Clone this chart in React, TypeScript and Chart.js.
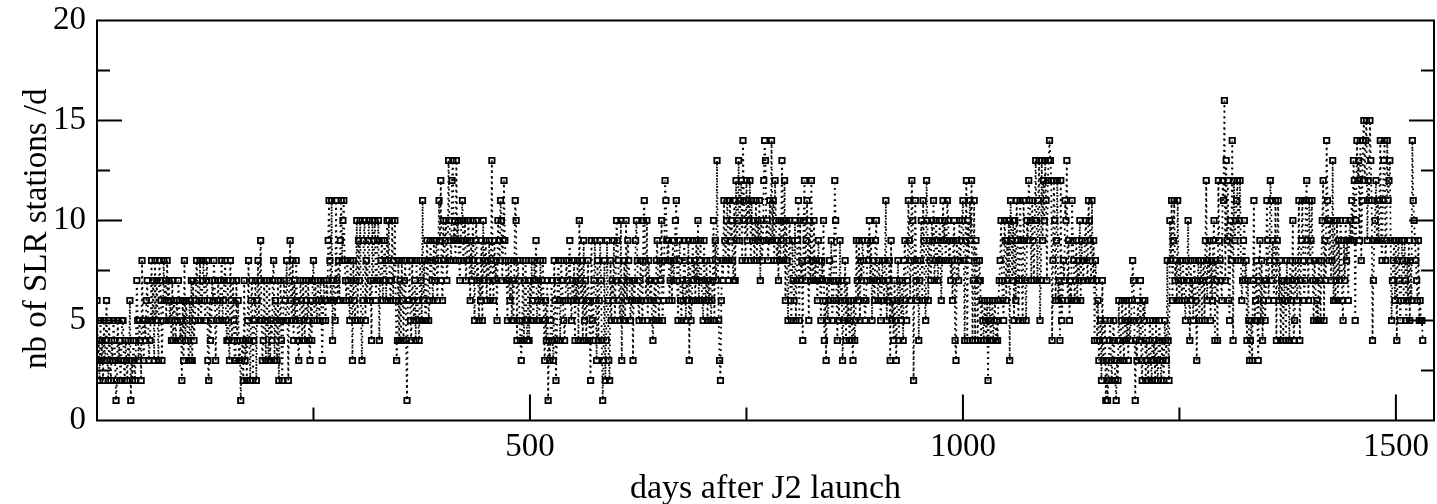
import React, { useEffect, useRef } from "react";
import { Chart, registerables } from "chart.js";

Chart.register(...registerables);

const xTickValues = [0, 250, 500, 750, 1000, 1250, 1500];
const xLabelled = [500, 1000, 1500];
const yTickValues = [0, 2.5, 5, 7.5, 10, 12.5, 15, 17.5, 20];
const yLabelled = [0, 5, 10, 15, 20];

const stationsA = [
6,3,4,2,5,3,4,2,5,3, 4,6,3,2,5,3,2,4,3,5, 4,3,1,2,5,3,4,2,3,5, 5,3,2,4,3,2,4,3,6,1,
3,2,4,3,2,4,7,5,3,5, 4,2,8,5,3,5,4,6,7,5, 3,4,5,8,5,7,3,8,5,7, 5,3,8,7,6,3,5,8,6,7,
5,8,6,7,5,6,4,7,4,6, 5,4,6,5,7,6,4,5,2,6, 3,8,4,6,5,4,3,6,3,7, 3,7,4,5,6,8,7,5,6,8,
5,6,7,8,6,5,7,8,3,2, 6,4,5,7,6,8,7,3,5,6, 7,5,6,7,8,5,6,7,8,5, 4,7,4,3,8,6,4,7,5,3,
3,7,4,6,3,4,1,3,4,2, 7,3,4,2,5,8,4,2,6,7, 2,4,5,7,2,6,8,5,7,9, 5,3,4,7,5,3,7,5,3,7,
3,5,4,7,8,3,6,5,3,7, 2,5,7,4,2,5,7,6,5,8, 5,2,7,9,6,5,8,4,7,5, 8,6,4,3,5,7,6,4,7,5,
4,7,6,5,7,4,3,6,4,7,
];
const stationsB = [
8,5,7,6,5,7,6,5,7,6, 3,5,7,6,5,7,6,9,11,8, 6,11,4,7,6,5,11,7,6,8, 6,9,11,8,10,11,8,7,6,8,
7,6,5,8,7,3,8,6,5,7, 10,5,9,7,10,5,3,6,9,10, 5,8,6,9,10,6,7,4,10,7, 9,10,6,7,9,10,4,7,8,9,
6,7,9,8,6,10,8,10,7,6, 7,10,6,8,10,6,3,4,8,4, 7,4,8,6,4,7,8,4,1,6, 6,8,5,4,8,6,5,7,4,8,
6,5,4,8,7,5,11,6,8,5, 5,9,8,5,6,9,8,7,6,9, 7,8,9,6,8,11,9,12,7,6, 10,8,9,10,7,8,13,10,9,8,
12,13,9,10,8,13,9,10,8,7, 9,10,11,8,9,10,7,8,9,10, 8,6,9,7,10,8,5,9,10,7, 8,5,7,6,9,5,10,7,8,9,
6,8,7,9,6,8,13,7,6,9, 7,8,5,10,9,8,11,10,7,9, 12,9,8,7,5,8,7,6,8,5, 7,5,8,11,10,4,8,7,5,4,
3,5,8,4,7,8,5,4,7,4,
];
const stationsC = [
7,5,8,6,5,8,7,9,5,6, 7,5,8,6,7,8,5,3,6,4, 7,1,4,3,5,7,4,3,8,6, 2,4,7,8,6,4,8,7,6,5,
4,6,8,7,6,8,9,6,5,7, 6,8,4,7,6,8,4,10,7,6, 8,4,9,5,7,4,6,8,6,4, 2,9,5,4,7,9,6,3,8,4,
6,9,7,4,1,3,8,2,4,9, 6,3,2,8,5,7,6,9,5,7, 10,9,8,6,5,10,3,7,5,8, 5,10,6,9,8,7,5,6,7,3,
7,6,9,10,8,6,5,7,8,6, 5,10,11,8,6,10,5,8,7,6, 7,5,4,6,7,5,8,9,6,5, 8,7,10,5,6,8,12,11,9,8,
9,6,7,8,6,9,7,8,10,11, 7,5,8,9,6,5,7,6,9,8, 5,7,6,9,3,8,5,6,9,7, 8,6,9,7,10,6,8,9,7,6,
5,9,7,6,8,5,7,6,8,5, 6,7,10,5,9,7,13,8,5,3, 2,6,8,7,11,9,8,10,11,7, 8,11,9,10,8,7,11,7,12,9,
10,13,9,11,12,8,14,11,10,8,
];
const stationsD = [
12,9,11,10,12,8,11,9,10,8, 9,11,8,10,9,11,7,10,8,9, 12,14,13,9,10,8,9,11,9,14, 9,11,8,12,10,8,9,7,10,8,
9,13,10,8,12,6,10,8,5,9, 10,6,5,9,7,6,10,5,7,9, 11,5,10,7,8,4,10,12,7,9, 11,8,5,10,7,12,8,7,10,7,
8,7,6,9,8,7,5,8,7,10, 4,6,3,7,5,6,8,7,9,5, 6,7,12,10,6,4,7,5,9,6, 7,3,5,6,8,4,7,5,6,4,
5,6,4,3,6,4,5,9,7,6, 9,5,8,7,9,8,6,5,6,7, 9,8,10,7,9,5,8,7,6,9, 10,7,6,8,7,5,6,8,7,6,
8,11,5,7,6,8,3,9,5,6, 4,7,5,3,6,8,4,7,6,5, 7,4,8,9,6,5,7,11,9,6, 8,12,10,2,8,11,7,6,8,4,
7,8,10,6,11,9,6,5,12,10, 6,9,8,7,10,9,11,7,8,10, 9,7,8,10,9,6,8,11,9,10, 8,9,11,10,8,9,7,8,6,9,
10,4,3,9,8,7,10,8,9,10,
];
const stationsE = [
11,8,4,9,12,4,10,8,11,9, 12,4,7,11,4,9,8,4,7,8, 7,4,6,5,4,6,5,4,6,2, 5,6,4,5,6,4,5,6,4,5,
4,6,7,8,10,7,6,5,10,9, 6,9,7,10,3,11,9,7,10,5, 10,6,11,9,5,7,11,9,7,5, 11,9,7,5,10,9,12,11,10,7,
11,9,7,10,13,10,7,11,13,5, 7,13,9,12,10,13,11,7,12,13, 14,13,12,4,8,12,10,6,9,12, 6,7,4,12,5,6,8,7,11,10,
13,6,9,5,7,6,11,9,8,6, 7,9,6,8,7,10,6,9,8,7, 8,9,10,8,7,11,10,9,7,11, 7,9,4,8,7,4,6,3,4,5,
2,7,3,4,5,1,3,1,2,4, 5,3,2,4,5,3,2,1,3,2, 6,4,3,5,6,4,3,5,6,4, 5,3,6,4,5,6,8,7,5,1,
4,3,6,5,4,7,3,2,6,5, 6,2,4,3,2,4,5,3,2,5, 3,4,2,5,3,2,4,5,3,2, 4,3,2,5,4,3,8,4,2,10,
8,11,6,9,11,7,8,6,11,7,
];
const stationsF = [
6,8,7,6,8,7,6,5,8,7, 10,7,4,8,6,7,5,8,7,6, 3,7,8,5,7,8,5,7,8,5, 9,12,6,8,7,9,5,8,6,9,
10,4,8,7,4,12,9,8,7,6, 12,11,16,7,13,9,12,6,5,10, 8,14,4,12,9,10,11,12,8,10, 12,8,6,7,9,10,7,8,4,7,
5,3,4,5,3,7,11,5,6,8, 5,3,7,9,5,8,4,6,7,5, 7,11,9,6,8,12,11,7,9,6, 8,11,4,9,11,6,8,4,7,6,
4,7,6,4,8,6,7,4,8,6, 7,10,4,5,8,7,6,8,11,4, 7,9,11,8,6,7,11,12,9,6, 11,8,9,11,7,5,8,7,5,6,
5,8,7,5,8,10,12,5,9,7, 14,11,10,8,10,7,8,13,6,10, 6,7,10,6,9,7,10,9,6,5, 9,7,10,8,9,6,9,10,9,11,
9,13,12,5,10,14,12,13,9,14, 8,11,14,15,12,14,15,9,12,11, 15,13,11,4,7,9,10,12,9,11, 9,11,14,9,8,11,13,14,8,9,
14,11,12,13,9,5,7,8,9,6, 9,4,8,9,7,5,6,9,8,6, 9,7,5,8,6,9,5,8,6,14, 11,10,9,8,7,6,9,5,6,5,
5,4,
];

const stations = [...stationsA, ...stationsB, ...stationsC, ...stationsD, ...stationsE, ...stationsF];

const FONT = '"Liberation Serif", "Times New Roman", serif';

const frameAndTicks = {
  id: "frameAndTicks",
  afterDatasetsDraw(chart: any) {
    const { ctx, chartArea: a, scales } = chart;
    ctx.save();
    ctx.strokeStyle = "#000";
    ctx.lineWidth = 2;
    ctx.beginPath();
    for (const v of xTickValues) {
      if (v === 0) continue;
      const x = scales.x.getPixelForValue(v);
      ctx.moveTo(x, a.bottom);
      ctx.lineTo(x, a.bottom - (xLabelled.includes(v) ? 26 : 13));
    }
    for (const v of yTickValues) {
      if (v === 0 || v === 20) continue;
      const y = scales.y.getPixelForValue(v);
      const len = yLabelled.includes(v) ? 25 : 13;
      ctx.moveTo(a.left, y);
      ctx.lineTo(a.left + len, y);
      ctx.moveTo(a.right, y);
      ctx.lineTo(a.right - len, y);
    }
    ctx.stroke();
    ctx.strokeRect(a.left, a.top, a.right - a.left, a.bottom - a.top);
    ctx.restore();
  },
};

export default function App() {
  const ref = useRef<HTMLCanvasElement>(null);
  useEffect(() => {
    document.body.style.margin = "0";
    document.body.style.background = "#fff";
    const chart = new Chart(ref.current!, {
      type: "line",
      plugins: [frameAndTicks],
      data: {
        datasets: [
          {
            data: stations.map((v, i) => ({ x: i, y: v })),
            borderColor: "#000",
            borderWidth: 1.8,
            borderDash: [1.8, 3.8],
            tension: 0,
            pointStyle: "rect",
            pointRadius: 3.8,
            pointBorderWidth: 1.8,
            pointBorderColor: "#000",
            pointBackgroundColor: "rgba(255,255,255,0)",
          },
        ],
      },
      options: {
        animation: false,
        responsive: false,
        parsing: false,
        normalized: true,
        layout: { autoPadding: false, padding: { top: 20.5, right: 3, left: 0, bottom: 0 } },
        plugins: { legend: { display: false }, tooltip: { enabled: false } },
        scales: {
          x: {
            type: "linear",
            min: 0,
            max: 1544,
            afterBuildTicks(s: any) {
              s.ticks = xTickValues.map((value) => ({ value }));
            },
            afterFit(s: any) {
              s.height = 83.5;
              s.paddingLeft = 0;
              s.paddingRight = 0;
            },
            grid: { display: false, drawTicks: false },
            border: { display: false },
            ticks: {
              autoSkip: false,
              maxRotation: 0,
              padding: 7,
              color: "#000",
              font: { family: FONT, size: 33 },
              callback: (v: any) => (xLabelled.includes(v) ? String(v) : ""),
            },
            title: {
              display: true,
              text: "days after J2 launch",
              color: "#000",
              font: { family: FONT, size: 34 },
              padding: { top: 0, bottom: -5 },
            },
          },
          y: {
            type: "linear",
            min: 0,
            max: 20,
            afterBuildTicks(s: any) {
              s.ticks = yTickValues.map((value) => ({ value }));
            },
            afterFit(s: any) {
              s.width = 97;
              s.paddingTop = 0;
              s.paddingBottom = 0;
            },
            grid: { display: false, drawTicks: false },
            border: { display: false },
            ticks: {
              autoSkip: false,
              padding: 11,
              color: "#000",
              font: { family: FONT, size: 33 },
              callback: (v: any) => (yLabelled.includes(v) ? String(v) : ""),
            },
            title: {
              display: true,
              text: "nb of SLR stations /d  ",
              color: "#000",
              font: { family: FONT, size: 33 },
              padding: { top: 18, bottom: 0 },
            },
          },
        },
      },
    } as any);
    return () => chart.destroy();
  }, []);
  return <canvas ref={ref} width={1437} height={504} style={{ display: "block", width: 1437, height: 504 }} />;
}
